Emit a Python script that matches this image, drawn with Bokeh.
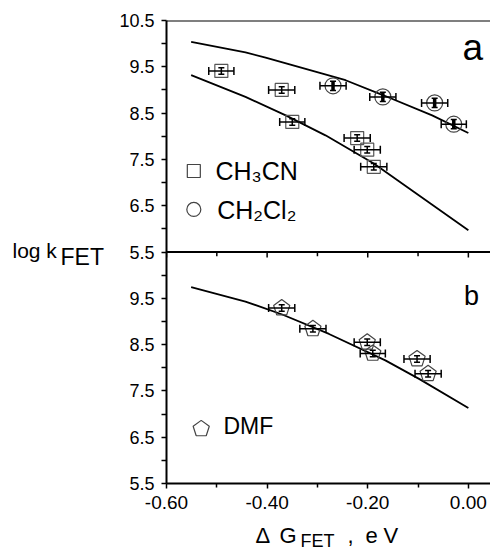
from bokeh.plotting import figure
from bokeh.models import (Range1d, FixedTicker, Span, Whisker, ColumnDataSource,
                          Label, TeeHead)
from bokeh.layouts import row, column
from bokeh.embed import file_html
from bokeh.resources import INLINE

FONT = "Liberation Sans"

# ---------------- data ----------------
# panel a: CH3CN (squares)
cn_x = [-0.491, -0.371, -0.350, -0.221, -0.201, -0.188]
cn_y = [9.41, 9.00, 8.31, 7.96, 7.71, 7.34]
cn_xerr = [0.025, 0.026, 0.025, 0.026, 0.026, 0.026]
cn_yerr = [0.07, 0.07, 0.07, 0.07, 0.07, 0.07]
# panel a: CH2Cl2 (circles)
cl_x = [-0.269, -0.170, -0.067, -0.029]
cl_y = [9.09, 8.85, 8.72, 8.26]
cl_xerr = [0.026, 0.026, 0.026, 0.025]
cl_yerr = [0.10, 0.10, 0.10, 0.10]
# panel a: fitted curves
fit_a1_x = [-0.551, -0.443, -0.403, -0.244, -0.170, -0.072, 0.0]
fit_a1_y = [10.04, 9.81, 9.70, 9.21, 8.89, 8.45, 8.07]
fit_a2_x = [-0.551, -0.443, -0.363, -0.284, -0.188, -0.112, 0.0]
fit_a2_y = [9.32, 8.85, 8.45, 8.02, 7.41, 6.83, 5.97]
# panel b: DMF (pentagons)
dmf_x = [-0.371, -0.309, -0.201, -0.190, -0.102, -0.080]
dmf_y = [9.29, 8.84, 8.55, 8.31, 8.19, 7.87]
dmf_xerr = [0.026, 0.026, 0.026, 0.025, 0.026, 0.026]
dmf_yerr = [0.07, 0.07, 0.07, 0.07, 0.07, 0.07]
fit_b_x = [-0.551, -0.443, -0.370, -0.277, -0.165, -0.098, 0.0]
fit_b_y = [9.74, 9.43, 9.15, 8.73, 8.16, 7.76, 7.13]

# ticks
x_major = [-0.6, -0.4, -0.2, 0.0]
x_minor = [-0.5, -0.3, -0.1]
y_major = [0.5, 1.5, 2.5, 3.5, 4.5, 5.5, 6.5, 7.5, 8.5, 9.5, 10.5]
y_minor = [1, 2, 3, 4, 5, 6, 7, 8, 9, 10]
y_labels = ["5.5", "6.5", "7.5", "8.5", "9.5", "5.5", "6.5", "7.5", "8.5", "9.5", "10.5"]
x_labels = ["-0.60", "-0.40", "-0.20", "0.00"]

# ---------------- main figure ----------------
p = figure(width=375, height=520, x_range=Range1d(-0.6, 0.044),
           y_range=Range1d(0.5, 10.5), output_backend="svg",
           toolbar_location=None, min_border_left=51, min_border_right=0,
           min_border_top=20, min_border_bottom=37)
p.extra_y_ranges = {"b": Range1d(5.5, 15.5)}
p.outline_line_color = None
p.xgrid.visible = False
p.ygrid.visible = False
p.background_fill_color = "white"

for ax in (p.xaxis[0], p.yaxis[0]):
    ax.axis_line_width = 2
    ax.axis_line_color = "black"
    ax.major_tick_line_width = 1.5
    ax.minor_tick_line_width = 1.5
    ax.major_tick_in = 0
    ax.minor_tick_in = 0
    ax.major_tick_out = 5
    ax.minor_tick_out = 5
    ax.major_label_text_font = FONT
    ax.major_label_text_color = "black"
    ax.major_label_standoff = 7

p.xaxis.ticker = FixedTicker(ticks=x_major, minor_ticks=x_minor)
p.xaxis.major_label_overrides = dict(zip(x_major, x_labels))
p.xaxis.major_label_text_font_size = "19px"
p.xaxis.minor_tick_out = 4

p.yaxis.ticker = FixedTicker(ticks=y_major, minor_ticks=y_minor)
p.yaxis.major_label_overrides = dict(zip(y_major, y_labels))
p.yaxis.major_label_text_font_size = "18px"

# top line and panel separator
p.add_layout(Span(location=10.5, dimension="width", line_width=2, line_color="black"))
p.add_layout(Span(location=5.5, dimension="width", line_width=2, line_color="black"))
# ticks on the separator, pointing down
p.segment(x0=x_major, x1=x_major, y0=[10.5] * len(x_major), y1=[10.38] * len(x_major),
          y_range_name="b", line_color="black", line_width=1.5)
p.segment(x0=x_minor, x1=x_minor, y0=[10.5] * len(x_minor), y1=[10.41] * len(x_minor),
          y_range_name="b", line_color="black", line_width=1.5)

# curves
p.line(fit_a1_x, fit_a1_y, line_color="black", line_width=1.8)
p.line(fit_a2_x, fit_a2_y, line_color="black", line_width=1.8)
p.line(fit_b_x, fit_b_y, line_color="black", line_width=1.8, y_range_name="b")


def error_bars(xs, ys, xe, ye, rng, ywidth=1.5):
    src = ColumnDataSource(dict(
        x=xs, y=ys,
        xlo=[a - b for a, b in zip(xs, xe)], xhi=[a + b for a, b in zip(xs, xe)],
        ylo=[a - b for a, b in zip(ys, ye)], yhi=[a + b for a, b in zip(ys, ye)]))
    wx = Whisker(base="y", lower="xlo", upper="xhi", dimension="width", source=src,
                 line_width=1.5, line_color="black", y_range_name=rng,
                 lower_head=TeeHead(size=8, line_width=1.5, line_color="black"),
                 upper_head=TeeHead(size=8, line_width=1.5, line_color="black"))
    wy = Whisker(base="x", lower="ylo", upper="yhi", dimension="height", source=src,
                 line_width=ywidth, line_color="black", y_range_name=rng,
                 lower_head=TeeHead(size=6, line_width=1.5, line_color="black"),
                 upper_head=TeeHead(size=6, line_width=1.5, line_color="black"))
    wx.level = "overlay"
    wy.level = "overlay"
    p.add_layout(wx)
    p.add_layout(wy)


# markers
p.scatter(cn_x, cn_y, marker="square", size=13, fill_color=None,
          line_color="#555555", line_width=1.2)
p.scatter(cl_x, cl_y, marker="circle", size=16, fill_color=None,
          line_color="#444444", line_width=1.2)
p.ngon(x=dmf_x, y=dmf_y, radius=8.5, radius_units="screen", n=5, angle=0,
       fill_color=None, line_color="#444444", line_width=1.2, y_range_name="b")

error_bars(cn_x, cn_y, cn_xerr, cn_yerr, "default")
error_bars(cl_x, cl_y, cl_xerr, cl_yerr, "default", ywidth=3.5)
error_bars(dmf_x, dmf_y, dmf_xerr, dmf_yerr, "b")


# ---------------- legends / texts ----------------
def lab(fig, x, y, text, size, rng="default", align="left", baseline="alphabetic"):
    fig.add_layout(Label(x=x, y=y, text=text, text_font=FONT, text_font_size=size,
                         text_color="black", text_align=align, text_baseline=baseline,
                         y_range_name=rng))


# legend symbols
p.scatter([-0.5457], [7.25], marker="square", size=13, fill_color=None,
          line_color="#444444", line_width=1.2)
p.scatter([-0.5457], [6.42], marker="circle", size=14, fill_color=None,
          line_color="#444444", line_width=1.2)
p.ngon(x=[-0.531], y=[6.68], radius=8.5, radius_units="screen", n=5, angle=0,
       fill_color=None, line_color="#444444", line_width=1.2, y_range_name="b")
lab(p, -0.5026, 7.239, "CH₃CN", "25px")
lab(p, -0.4992, 6.411, "CH₂Cl₂", "25px")
lab(p, -0.4867, 6.738, "DMF", "23px", rng="b")

# panel letters
lab(p, 0.0090, 9.923, "a", "37px", align="center")
lab(p, 0.0064, 9.554, "b", "27px", rng="b", align="center")


# ---------------- axis titles: small text-only canvases ----------------
def text_canvas(w, h):
    f = figure(width=w, height=h, x_range=Range1d(0, w), y_range=Range1d(h, 0),
               output_backend="svg", toolbar_location=None, x_axis_type=None,
               y_axis_type=None, min_border=0, title=None)
    f.outline_line_color = None
    f.xgrid.visible = False
    f.ygrid.visible = False
    return f


ytitle = text_canvas(115, 520)
lab(ytitle, 12, 258.0, "log k", "21px")
lab(ytitle, 60, 266.0, "FET", "23px")

xtitle = text_canvas(490, 36)
lab(xtitle, 255, 15.0, "Δ", "22px")
lab(xtitle, 279, 15.0, "G", "22px")
lab(xtitle, 300, 20.5, "FET", "18px")
lab(xtitle, 347, 15.0, ",", "22px")
lab(xtitle, 365, 15.0, "e", "22px")
lab(xtitle, 383, 15.0, "V", "22px")

layout = column(row(ytitle, p), xtitle)

open("out.html", "w").write(file_html(layout, INLINE))
